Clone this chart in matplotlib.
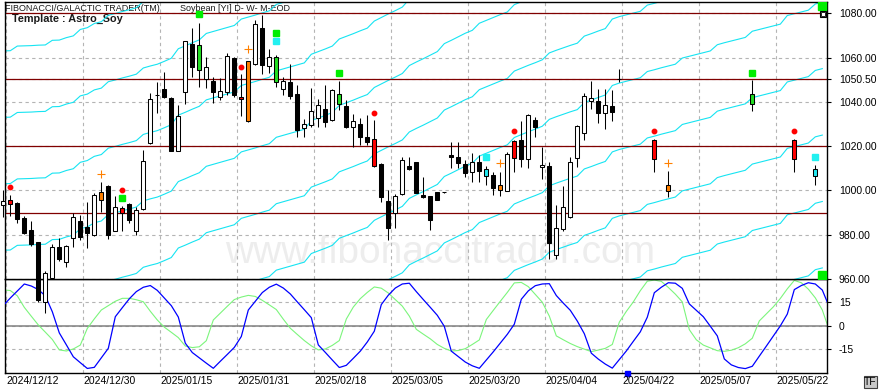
import matplotlib
matplotlib.use('Agg')
from matplotlib import pyplot as plt
from matplotlib.patches import Rectangle
from matplotlib.transforms import Bbox, TransformedBbox, blended_transform_factory
import numpy as np

plt.rcParams['font.family'] = ['Liberation Sans', 'DejaVu Sans']

# date labels, one every 11 trading bars
tick_bars = [0, 11, 22, 33, 44, 55, 66, 77, 88, 99, 110]
tick_labels = ['2024/12/12', '2024/12/30', '2025/01/15', '2025/01/31', '2025/02/18',
               '2025/03/05', '2025/03/20', '2025/04/04', '2025/04/22', '2025/05/07',
               '2025/05/22']

# candles (bar index, OHLC)
candle_bars = list(range(0, 89)) + [93, 95, 107, 113, 116]
opens = [993.3, 995.5, 994.3, 987.4, 982.1, 976.5, 949.6, 960.6, 974.3, 967.5,
         978.4, 986.2, 983.3, 979.7, 995.7, 1002.0, 981.8, 991.9, 993.7, 981.8,
         991.5, 1021.3, 1043.0, 1045.7, 1041.6, 1018.0, 1044.3, 1066.2, 1054.4, 1050.2,
         1049.6, 1042.1, 1044.3, 1059.7, 1042.4, 1031.4, 1057.0, 1073.2, 1056.4, 1048.8,
         1045.7, 1049.1, 1043.6, 1028.1, 1029.4, 1032.6, 1036.8, 1031.8, 1039.0, 1038.1,
         1028.5, 1030.0, 1024.3, 1023.2, 1012.0, 995.2, 990.0, 998.2, 1011.0, 1012.8,
         997.9, 997.5, 999.3, 999.1, 1016.0, 1015.3, 1011.8, 1008.2, 1013.0, 1006.5,
         1007.0, 1000.2, 999.9, 1014.5, 1022.8, 1014.0, 1031.8, 1010.4, 1011.2, 970.8,
         982.4, 988.1, 1014.5, 1025.8, 1040.4, 1040.6, 1034.8, 1038.1, 1050.5,
         1022.8, 999.9, 1038.9, 1022.8, 1006.5]
highs = [1000.2, 997.9, 994.9, 988.4, 986.0, 976.8, 963.5, 975.8, 978.4, 975.3,
         989.7, 989.0, 994.9, 999.0, 1003.7, 1002.3, 997.5, 993.0, 994.5, 992.7,
         1018.3, 1043.9, 1049.0, 1053.7, 1042.0, 1038.6, 1067.7, 1073.2, 1075.8, 1060.1,
         1051.1, 1050.6, 1061.9, 1060.1, 1052.5, 1058.5, 1077.0, 1079.2, 1063.9, 1061.2,
         1051.4, 1057.1, 1047.6, 1032.3, 1046.4, 1041.3, 1047.6, 1045.8, 1049.4, 1040.9,
         1034.4, 1032.9, 1034.1, 1031.8, 1012.2, 1000.2, 998.4, 1015.3, 1015.0, 1013.0,
         1006.2, 997.7, 999.5, 999.3, 1022.0, 1022.0, 1013.7, 1016.8, 1016.0, 1011.0,
         1008.5, 1008.5, 1017.5, 1022.7, 1031.4, 1034.3, 1033.0, 1019.8, 1012.7, 993.4,
         1002.0, 1015.0, 1029.5, 1044.2, 1049.6, 1045.7, 1045.7, 1045.4, 1054.8,
         1023.2, 1008.8, 1049.9, 1023.2, 1011.5]
lows = [988.1, 988.4, 985.4, 980.3, 974.9, 949.5, 944.8, 959.8, 968.3, 965.6,
        974.6, 977.6, 974.1, 979.4, 990.4, 978.2, 981.5, 981.8, 985.1, 979.9,
        991.2, 1021.0, 1034.8, 1041.6, 1018.0, 1018.0, 1039.0, 1051.4, 1046.9, 1046.1,
        1039.7, 1040.9, 1043.0, 1042.4, 1033.6, 1031.0, 1056.5, 1052.6, 1052.9, 1046.9,
        1043.1, 1041.2, 1024.3, 1024.3, 1028.8, 1028.8, 1028.8, 1031.5, 1036.3, 1028.1,
        1019.8, 1020.5, 1020.5, 1010.7, 994.9, 977.6, 982.9, 997.9, 1009.3, 998.8,
        996.7, 982.1, 995.5, 998.9, 1010.0, 1010.0, 1006.2, 1004.0, 1004.0, 1002.4,
        997.9, 997.5, 999.7, 1008.5, 1010.7, 1010.3, 1024.3, 1005.0, 968.9, 968.9,
        981.8, 987.4, 1010.7, 1022.8, 1036.6, 1030.6, 1027.6, 1031.5, 1048.8,
        1008.5, 997.2, 1035.9, 1008.5, 1002.5]
closes = [995.2, 994.0, 987.2, 980.9, 976.0, 950.5, 962.8, 974.3, 968.9, 974.7,
          987.8, 979.1, 980.9, 997.9, 999.1, 980.0, 992.4, 990.0, 986.6, 991.2,
          1013.1, 1041.2, 1043.2, 1042.1, 1018.0, 1033.8, 1067.4, 1055.6, 1065.6, 1055.6,
          1044.3, 1044.9, 1060.7, 1043.1, 1041.2, 1058.3, 1075.2, 1056.6, 1060.4, 1060.4,
          1049.6, 1042.8, 1027.3, 1029.9, 1035.9, 1038.6, 1031.1, 1045.4, 1043.6, 1028.5,
          1031.4, 1024.0, 1022.0, 1011.0, 997.2, 983.2, 997.5, 1013.7, 1009.5, 999.0,
          996.9, 986.6, 995.7, 999.1, 1015.0, 1012.2, 1008.0, 1012.7, 1008.9, 1009.5,
          1001.0, 1002.4, 1016.3, 1022.5, 1014.0, 1034.1, 1028.8, 1011.3, 976.1, 982.9,
          992.4, 1012.7, 1029.1, 1042.7, 1041.9, 1035.1, 1038.6, 1035.6, 1050.5,
          1014.2, 1002.5, 1043.4, 1014.2, 1009.5]

# signal colored candles
signal_colors = {1: 'red', 14: 'orange', 17: 'red', 28: 'green', 34: 'red', 35: 'orange',
                 39: 'green', 48: 'green', 53: 'red', 69: 'cyan', 71: 'orange', 73: 'red',
                 93: 'red', 95: 'orange', 107: 'green', 113: 'red', 116: 'cyan'}

# markers above bars (bar, price)
red_dots = [(1, 1001.7), (17, 1000.2), (34, 1055.9), (53, 1035.1), (73, 1027.0),
            (93, 1027.0), (113, 1027.0)]
orange_crosses = [(14, 1007.3), (35, 1063.7), (71, 1012.2), (95, 1012.2)]
green_squares = [(17, 996.7), (28, 1079.7), (39, 1071.3), (48, 1053.2), (107, 1053.2)]
cyan_squares = [(39, 1067.5), (69, 1015.3), (116, 1015.2)]

# horizontal levels
red_levels = [1080, 1050.5, 1020, 990]
price_ticks = [960, 980, 1000, 1020, 1040, 1050.5, 1060, 1080]

# astro line (one per bar), repeated every 30 points
astro_base = [1003.0, 1003.1, 1005.2, 1005.3, 1005.4, 1005.6, 1005.7, 1007.8, 1007.9, 1009.0,
              1009.8, 1012.7, 1013.5, 1015.4, 1016.2, 1019.1, 1019.9, 1020.8, 1021.6, 1022.5,
              1025.3, 1026.2, 1027.0, 1028.3, 1029.7, 1034.0, 1035.3, 1036.7, 1038.0, 1040.9,
              1041.8, 1042.7, 1043.6, 1044.5, 1047.4, 1048.3, 1049.2, 1050.2, 1051.1, 1054.0,
              1054.9, 1055.8, 1056.7, 1057.6, 1061.5, 1062.7, 1063.9, 1065.2, 1068.4, 1069.6,
              1070.8, 1072.1, 1073.3, 1076.5, 1078.1, 1079.7, 1081.2, 1082.8, 1086.4, 1088.0,
              1089.5, 1091.1, 1092.7, 1096.3, 1097.8, 1099.4, 1101.0, 1102.3, 1105.5, 1106.8,
              1108.1, 1109.4, 1110.6, 1113.9, 1115.2, 1116.5, 1117.7, 1119.0, 1122.1, 1123.3,
              1124.4, 1125.5, 1126.5, 1129.7, 1130.8, 1132.0, 1133.1, 1137.4, 1138.5, 1139.3,
              1140.1, 1140.9, 1143.7, 1144.5, 1145.4, 1146.2, 1147.0, 1149.8, 1150.6, 1151.4,
              1152.2, 1153.0, 1155.8, 1156.7, 1157.5, 1158.3, 1159.1, 1161.9, 1162.7, 1163.5,
              1164.3, 1165.1, 1169.0, 1169.8, 1170.6, 1171.4, 1174.2, 1175.0]
astro_offsets = [-240, -210, -180, -150, -120, -90, -60, -30, 0, 30, 60, 90]

# oscillator panel
osc_blue = [13.0, 17.8, 22.3, 26.8, 25.5, 23.2, 19.2, 9.0, -4.6, -12.2,
            -19.9, -23.7, -27.4, -26.7, -20.6, -14.5, 5.8, 11.6, 17.3, 21.9,
            24.7, 25.8, 22.7, 17.8, 12.9, 5.6, -11.2, -17.2, -20.6, -24.0,
            -27.3, -22.8, -18.4, -13.9, -6.9, 10.1, 15.7, 21.3, 24.7, 26.7,
            24.2, 20.4, 15.3, 10.3, 5.2, -12.3, -17.1, -22.0, -26.8, -25.4,
            -20.9, -16.3, -10.4, -3.5, 13.6, 19.6, 24.2, 26.8, 27.3, 21.9,
            16.8, 11.8, 6.7, -0.4, -16.3, -19.8, -23.3, -25.7, -27.3, -22.0,
            -16.7, -11.1, -5.5, 1.0, 17.0, 22.4, 25.7, 26.8, 27.0, 19.4,
            14.5, 9.9, 3.0, -5.1, -17.6, -21.4, -24.6, -27.2, -21.7, -16.2,
            -10.0, -3.9, 5.5, 21.2, 24.7, 27.6, 27.3, 24.0, 14.0, 9.9,
            5.8, -0.3, -6.5, -21.3, -25.1, -26.8, -27.5, -26.0, -19.5, -13.1,
            -6.6, -0.1, 7.5, 23.2, 25.8, 27.6, 26.8, 22.9, 12.0]
osc_green = [23.0, 22.6, 19.2, 11.8, 6.1, 0.5, -4.1, -8.8, -15.5, -16.2,
             -14.9, -12.4, -1.7, 4.4, 10.1, 12.9, 15.7, 17.6, 17.6, 16.7,
             15.4, 9.3, 3.7, -0.9, -4.2, -7.6, -13.0, -14.0, -13.5, -9.6,
             3.7, 8.1, 12.5, 16.8, 18.4, 19.5, 18.8, 16.3, 13.4, 10.4,
             4.2, -1.6, -5.6, -9.5, -12.9, -15.5, -14.9, -12.6, -9.5, 4.3,
             12.0, 17.4, 21.4, 24.9, 24.1, 21.0, 16.8, 12.6, 6.2, -2.3,
             -5.4, -8.4, -12.0, -14.5, -16.2, -15.9, -14.7, -12.0, -9.1, 4.0,
             9.9, 15.7, 21.4, 27.5, 27.8, 25.1, 20.1, 15.1, 6.2, -6.5,
             -9.0, -11.4, -13.4, -15.0, -16.6, -15.6, -14.5, -12.0, 2.3, 9.2,
             15.3, 22.5, 28.6, 29.3, 28.5, 24.6, 20.3, 15.3, -2.5, -9.0,
             -12.4, -14.2, -16.0, -16.4, -15.7, -14.1, -11.6, -8.0, 3.1, 7.6,
             12.1, 17.5, 23.7, 29.1, 27.6, 23.5, 17.9, 10.1, -3.0]
osc_ticks = [-15, 0, 15]

colors = {'red': '#ff0000', 'orange': '#ff8000', 'green': '#22dd22', 'cyan': '#22e8f0'}

W, H = 881, 390
fig = plt.figure(figsize=(W / 100, H / 100), dpi=100)
fig.patch.set_facecolor('white')

ax = fig.add_axes([4.5 / W, 1 - 279 / H, 822.5 / W, 277 / H])
ax2 = fig.add_axes([4.5 / W, 1 - 372.5 / H, 822.5 / W, 93.5 / H])
ax.set_zorder(2)
ax2.set_zorder(1)

xlim = (0.17, 117.67)
grid_x = [b + 0.4 for b in tick_bars]

# ---- price panel ----
ax.set_xlim(*xlim)
ax.set_ylim(960, 1085.1)
ax.set_xticks(grid_x)
ax.set_xticklabels([])
ax.tick_params(axis='x', length=0)
ax.yaxis.tick_right()
ax.set_yticks(price_ticks)
ax.set_yticklabels(['%.2f' % v for v in price_ticks])
ax.tick_params(axis='y', length=3, width=0.8, pad=5.5, labelsize=7.5, colors='black')
ax.grid(True, color='#b4b4b4', linestyle=(0, (3, 3)), linewidth=0.8)
ax.set_axisbelow(True)
for s in ax.spines.values():
    s.set_color('black')
    s.set_linewidth(1.0)

ax.text(0.53, 0.095, 'www.fibonaccitrader.com', transform=ax.transAxes, ha='center',
        va='center', fontsize=28, color='#ededed', zorder=0.5)

x_all = np.arange(len(astro_base))
base = np.array(astro_base)
for off in astro_offsets:
    ax.plot(x_all, base + off, color='#16e4f2', linewidth=0.8, zorder=2)

for lv in red_levels:
    ax.axhline(lv, color='#800000', linewidth=0.9, zorder=2.5)

for b, o, h, l, c in zip(candle_bars, opens, highs, lows, closes):
    ax.vlines(b, l, h, color='black', linewidth=0.75, zorder=3, clip_on=False)
    if b in signal_colors:
        fc = colors[signal_colors[b]]
    elif c >= o:
        fc = 'white'
    else:
        fc = 'black'
    ax.bar(b, abs(c - o), bottom=min(o, c), width=0.6, facecolor=fc, edgecolor='black',
           linewidth=0.75, zorder=4, clip_on=False)

ax.plot([p[0] for p in red_dots], [p[1] for p in red_dots], 'o', color='#ff0000',
        markersize=3.2, zorder=5, linestyle='none')
ax.plot([p[0] for p in orange_crosses], [p[1] for p in orange_crosses], '+', color='#ff8000',
        markersize=6, markeredgewidth=0.8, zorder=5, linestyle='none')
ax.plot([p[0] for p in green_squares], [p[1] for p in green_squares], 's', color='#00ee00',
        markersize=4.3, zorder=5, linestyle='none')
ax.plot([p[0] for p in cyan_squares], [p[1] for p in cyan_squares], 's', color='#22f0f0',
        markersize=4.3, zorder=5, linestyle='none')

# corner markers at right edge
ax.plot([117, 117], [1083.4, 961.6], 's', color='#00ee00', markersize=6.2, zorder=5,
        linestyle='none')
ax.plot([117.05], [1079.9], 's', markerfacecolor='white', markeredgecolor='black',
        markersize=5, markeredgewidth=0.8, zorder=6)
ax.plot([117.05], [1079.9], 's', markerfacecolor='none', markeredgecolor='black',
        markersize=2.2, markeredgewidth=0.6, zorder=6)

ax.text(0.0005, 0.9755, 'FIBONACCI/GALACTIC TRADER(TM)', transform=ax.transAxes, ha='left',
        va='center', fontsize=6.5, color='#1a1a1a', zorder=1)
ax.text(0.2134, 0.9755, 'Soybean [Y!] D- W- M-EOD', transform=ax.transAxes, ha='left',
        va='center', fontsize=6.5, color='#1a1a1a', zorder=1)
ax.text(0.009, 0.938, 'Template : Astro_Soy', transform=ax.transAxes, ha='left',
        va='center', fontsize=7.8, fontweight='bold', color='#1a1a1a', zorder=1)

# ---- oscillator panel ----
ax2.set_xlim(*xlim)
ax2.set_ylim(-30, 30)
ax2.set_xticks(grid_x)
ax2.set_xticklabels([])
ax2.tick_params(axis='x', length=0)
ax2.yaxis.tick_right()
ax2.set_yticks(osc_ticks)
ax2.set_yticklabels([str(v) for v in osc_ticks])
ax2.tick_params(axis='y', length=3, width=0.8, pad=5.5, labelsize=7.5, colors='black')
ax2.grid(True, color='#b4b4b4', linestyle=(0, (3, 3)), linewidth=0.8)
ax2.set_axisbelow(True)
for s in ax2.spines.values():
    s.set_color('black')
    s.set_linewidth(1.0)
ax2.axhline(0, color='#808080', linewidth=1.1, zorder=1.5)

xo = np.arange(len(osc_blue))
ax2.plot(xo, osc_green, color='#7cf57c', linewidth=0.8, zorder=2)
ax2.plot(xo, osc_blue, color='#0000ff', linewidth=0.9, zorder=3)
ax2.plot([89.1], [-30], 's', color='#0000ff', markersize=3.6, clip_on=False, zorder=4)

# date labels, clipped at the right edge of the chart
trans = blended_transform_factory(ax2.transData, fig.transFigure)
clip = TransformedBbox(Bbox([[0, 0], [827.5 / W, 1]]), fig.transFigure)
for b, lab in zip(grid_x, tick_labels):
    t = fig.text(b, 1 - 381.5 / H, lab, transform=trans, ha='left', va='center',
                 fontsize=7.5, color='black')
    t.set_clip_box(clip)
    t.set_clip_on(True)

# TF button
fig.patches.append(Rectangle((864 / W, 1 - 388 / H), 13 / W, 12 / H,
                             transform=fig.transFigure, facecolor='#c8c8c8',
                             edgecolor='#404040', linewidth=0.8))
fig.text(870.5 / W, 1 - 382 / H, 'TF', ha='center', va='center', fontsize=7.5)

fig.savefig('out.png', dpi=100)
